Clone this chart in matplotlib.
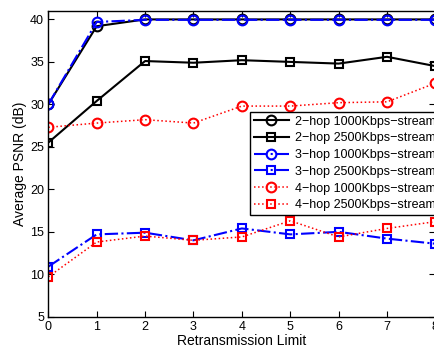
import matplotlib
matplotlib.use("Agg")
import matplotlib.pyplot as plt

plt.rcParams['font.family'] = ['Liberation Sans', 'DejaVu Sans']

x = [0, 1, 2, 3, 4, 5, 6, 7, 8]
hop2_1000 = [30.0, 39.2, 40.0, 40.0, 40.0, 40.0, 40.0, 40.0, 40.0]
hop2_2500 = [25.5, 30.4, 35.1, 34.9, 35.2, 35.0, 34.8, 35.6, 34.5]
hop3_1000 = [30.0, 39.7, 39.95, 39.95, 39.95, 39.95, 39.95, 39.95, 39.95]
hop3_2500 = [10.9, 14.7, 14.9, 14.0, 15.4, 14.7, 15.0, 14.2, 13.6]
hop4_1000 = [27.3, 27.8, 28.2, 27.8, 29.8, 29.8, 30.2, 30.3, 32.5]
hop4_2500 = [9.7, 13.8, 14.5, 14.0, 14.4, 16.3, 14.4, 15.4, 16.2]
labels = ['2\u2212hop 1000Kbps\u2212stream', '2\u2212hop 2500Kbps\u2212stream',
          '3\u2212hop 1000Kbps\u2212stream', '3\u2212hop 2500Kbps\u2212stream',
          '4\u2212hop 1000Kbps\u2212stream', '4\u2212hop 2500Kbps\u2212stream']

fig = plt.figure(figsize=(4.35, 3.52), dpi=100)
ax = fig.add_axes([0.111, 0.1, 0.890, 0.869])

mfc = 'none'
ax.plot(x, hop2_1000, color='black', ls='-', lw=1.5, marker='o', ms=7, mfc=mfc, mew=1.5, label=labels[0])
ax.plot(x, hop2_2500, color='black', ls='-', lw=1.5, marker='s', ms=6, mfc=mfc, mew=1.5, label=labels[1])
ax.plot(x, hop3_1000, color='blue', ls='-.', lw=1.5, marker='o', ms=7, mfc=mfc, mew=1.5, label=labels[2])
ax.plot(x, hop3_2500, color='blue', ls='-.', lw=1.5, marker='s', ms=6, mfc=mfc, mew=1.5, label=labels[3])
ax.plot(x, hop4_1000, color='red', ls=':', lw=1.1, marker='o', ms=7, mfc=mfc, mew=1.5, label=labels[4])
ax.plot(x, hop4_2500, color='red', ls=':', lw=1.1, marker='s', ms=6, mfc=mfc, mew=1.5, label=labels[5])

ax.set_xlim(0, 8)
ax.set_ylim(5, 41)
ax.set_xticks(x)
ax.set_yticks([5, 10, 15, 20, 25, 30, 35, 40])
ax.tick_params(direction='in', length=4, labelsize=9, top=True, right=True, width=0.8, pad=3)
for s in ax.spines.values():
    s.set_linewidth(1.0)
ax.set_xlabel('Retransmission Limit', fontsize=10, labelpad=1)
ax.set_ylabel('Average PSNR (dB)', fontsize=10, labelpad=2)

leg = ax.legend(loc='upper left', bbox_to_anchor=(0.521, 0.670), borderaxespad=0,
                fontsize=9, handlelength=2.8, fancybox=False, framealpha=1,
                edgecolor='black', labelspacing=0.38, borderpad=0.3, handletextpad=0.5)
leg.get_frame().set_linewidth(1.0)

fig.savefig('out.png', dpi=100)
